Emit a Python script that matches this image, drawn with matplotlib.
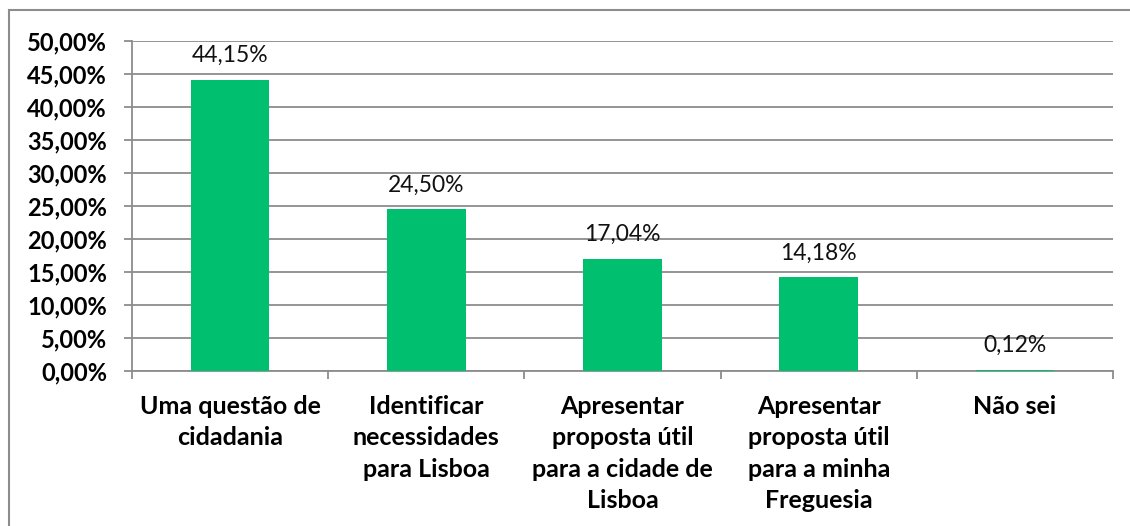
import matplotlib
matplotlib.use("Agg")
from matplotlib import pyplot as plt
from matplotlib.lines import Line2D
import numpy as np

# dados
categorias = ["Uma questão de\ncidadania",
              "Identificar\nnecessidades\npara Lisboa",
              "Apresentar\nproposta útil\npara a cidade de\nLisboa",
              "Apresentar\nproposta útil\npara a minha\nFreguesia",
              "Não sei"]
valores = [44.15, 24.50, 17.04, 14.18, 0.12]
yticks = [0, 5, 10, 15, 20, 25, 30, 35, 40, 45, 50]

verde = "#00BF6F"
cinza = "#8C8C8C"

plt.rcParams['font.family'] = ['Lato', 'DejaVu Sans']

fig = plt.figure(figsize=(11.3, 5.26), dpi=100)
ax = fig.add_axes([0.1168, 0.2947, 0.985 - 0.1168, 0.922 - 0.2947])

x = np.arange(len(valores))
ax.bar(x, valores, width=0.4, color=verde, zorder=3)

for xi, v in zip(x, valores):
    ax.annotate(("%.2f%%" % v).replace(".", ","), (xi, v), xytext=(0, 10),
                textcoords="offset points", ha="center", va="bottom",
                fontsize=16.5, color="#111111")

ax.set_xlim(-0.5, len(valores) - 0.5)
ax.set_ylim(0, 50)
ax.set_yticks(yticks)
ax.set_yticklabels([("%.2f%%" % t).replace(".", ",") for t in yticks],
                   fontsize=17, fontweight="bold")
ax.yaxis.grid(True, color=cinza, linewidth=1.3, zorder=0)

# marcas do eixo x entre as categorias
ax.set_xticks(np.arange(len(valores) + 1) - 0.5)
ax.set_xticklabels([])
ax.set_xticks(x, minor=True)
ax.set_xticklabels(categorias, minor=True, fontsize=18, fontweight="bold",
                   linespacing=1.45, va="top")
ax.tick_params(axis="x", which="minor", length=0, pad=17)
ax.tick_params(axis="x", which="major", length=6, width=1.3, color=cinza)
ax.tick_params(axis="y", length=6, width=1.3, color=cinza, pad=12)

for s in ["top", "right"]:
    ax.spines[s].set_visible(False)
for s in ["left", "bottom"]:
    ax.spines[s].set_color(cinza)
    ax.spines[s].set_linewidth(1.3)

# moldura do gráfico
fig.add_artist(Line2D([9 / 1130, 9 / 1130], [0, 1 - 10 / 526],
                      color=cinza, linewidth=1.5, transform=fig.transFigure))
fig.add_artist(Line2D([9 / 1130, 1], [1 - 10 / 526, 1 - 10 / 526],
                      color=cinza, linewidth=1.5, transform=fig.transFigure))

fig.savefig("out.png", dpi=100, facecolor="white")
